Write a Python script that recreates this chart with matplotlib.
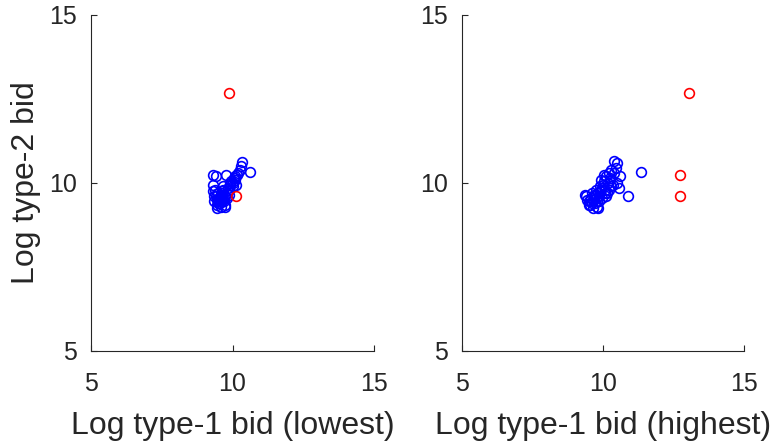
import matplotlib
matplotlib.use("Agg")
import matplotlib.pyplot as plt

plt.rcParams['font.family'] = ['Liberation Sans', 'DejaVu Sans']

# Left panel: lowest type-1 bid vs type-2 bid
low_blue_x = [9.35, 9.40, 9.38, 9.45, 9.50, 9.42, 9.55, 9.60, 9.48, 9.52, 9.58, 9.65, 9.70, 9.62, 9.75,
              9.80, 9.68, 9.72, 9.85, 9.90, 9.95, 10.00, 10.05, 10.10, 10.15, 10.20, 10.25, 10.30, 10.35,
              10.62, 9.32, 9.44, 9.50, 9.56, 9.62, 9.66, 9.78, 9.82, 9.88, 9.92, 10.0, 10.08, 9.46, 9.54,
              9.74, 9.86, 9.30, 9.58, 9.70, 10.12, 9.30, 9.36]
low_blue_y = [9.45, 9.60, 9.80, 9.35, 9.50, 10.20, 9.40, 9.30, 9.70, 9.55, 9.65, 9.50, 9.45, 9.75, 9.60,
              9.70, 9.90, 9.35, 9.85, 9.95, 10.05, 10.00, 10.15, 10.10, 10.25, 10.30, 10.40, 10.50, 10.62,
              10.33, 9.95, 9.25, 9.40, 9.58, 9.62, 9.80, 10.25, 9.55, 9.80, 10.00, 9.90, 10.20, 9.50, 9.45,
              9.30, 9.65, 9.75, 9.70, 9.55, 9.95, 10.24, 9.60]
low_red_x = [9.88, 10.12]
low_red_y = [12.68, 9.60]

# Right panel: highest type-1 bid vs type-2 bid
high_blue_x = [9.40, 9.50, 9.55, 9.60, 9.65, 9.70, 9.75, 9.80, 9.85, 9.90, 9.95, 10.00, 10.05, 10.10,
               10.15, 10.20, 10.25, 10.30, 10.40, 10.50, 10.60, 10.90, 11.35, 9.45, 9.58, 9.68, 9.78,
               9.88, 9.98, 10.08, 10.18, 10.28, 10.38, 10.45, 9.62, 9.72, 9.82, 9.92, 10.02, 10.12,
               10.22, 10.35, 10.55, 9.52, 9.66, 9.86, 10.06, 10.26, 10.48, 9.74, 9.36, 9.82]
high_blue_y = [9.60, 9.45, 9.35, 9.70, 9.50, 9.40, 9.80, 9.30, 9.60, 9.75, 9.85, 9.95, 10.05, 10.20,
               9.70, 10.30, 10.10, 10.40, 10.65, 10.60, 10.20, 9.60, 10.33, 9.50, 9.55, 9.65, 9.45,
               9.90, 9.55, 9.80, 10.00, 9.90, 10.30, 10.45, 9.40, 9.60, 9.70, 10.10, 10.25, 9.60,
               9.80, 9.95, 9.85, 9.35, 9.25, 9.45, 9.70, 10.15, 10.00, 9.55, 9.64, 9.26]
high_red_x = [13.05, 12.73, 12.73]
high_red_y = [12.68, 10.24, 9.61]

ticks = [5, 10, 15]
x_labels = ['Log type-1 bid (lowest)', 'Log type-1 bid (highest)']
y_label = 'Log type-2 bid'

W, H = 773, 445
fig = plt.figure(figsize=(W / 100, H / 100), dpi=100)
ax1 = fig.add_axes([91 / W, 1 - 351 / H, 283 / W, 336 / H])
ax2 = fig.add_axes([462 / W, 1 - 351 / H, 282 / W, 336 / H])

txt = '#262626'
panels = [(ax1, low_blue_x, low_blue_y, low_red_x, low_red_y),
          (ax2, high_blue_x, high_blue_y, high_red_x, high_red_y)]
for i, (ax, bx, by, rx, ry) in enumerate(panels):
    ax.plot(bx, by, 'o', mfc='none', mec='#0000ff', ms=7, mew=1.2, ls='none')
    ax.plot(rx, ry, 'o', mfc='none', mec='#ff0000', ms=7, mew=1.2, ls='none')
    ax.set_xlim(5, 15)
    ax.set_ylim(5, 15)
    ax.set_xticks(ticks)
    ax.set_yticks(ticks)
    ax.tick_params(direction='in', length=4, width=0.8, colors=txt, labelsize=18)
    ax.tick_params(axis='x', pad=15)
    ax.tick_params(axis='y', pad=10)
    for s in ['top', 'right']:
        ax.spines[s].set_visible(False)
    for s in ['left', 'bottom']:
        ax.spines[s].set_color(txt)
        ax.spines[s].set_linewidth(0.8)
    ax.set_xlabel(x_labels[i], fontsize=23, color=txt, labelpad=11)
ax1.set_ylabel(y_label, fontsize=23, color=txt, labelpad=6)

fig.savefig('out.png', dpi=100)
